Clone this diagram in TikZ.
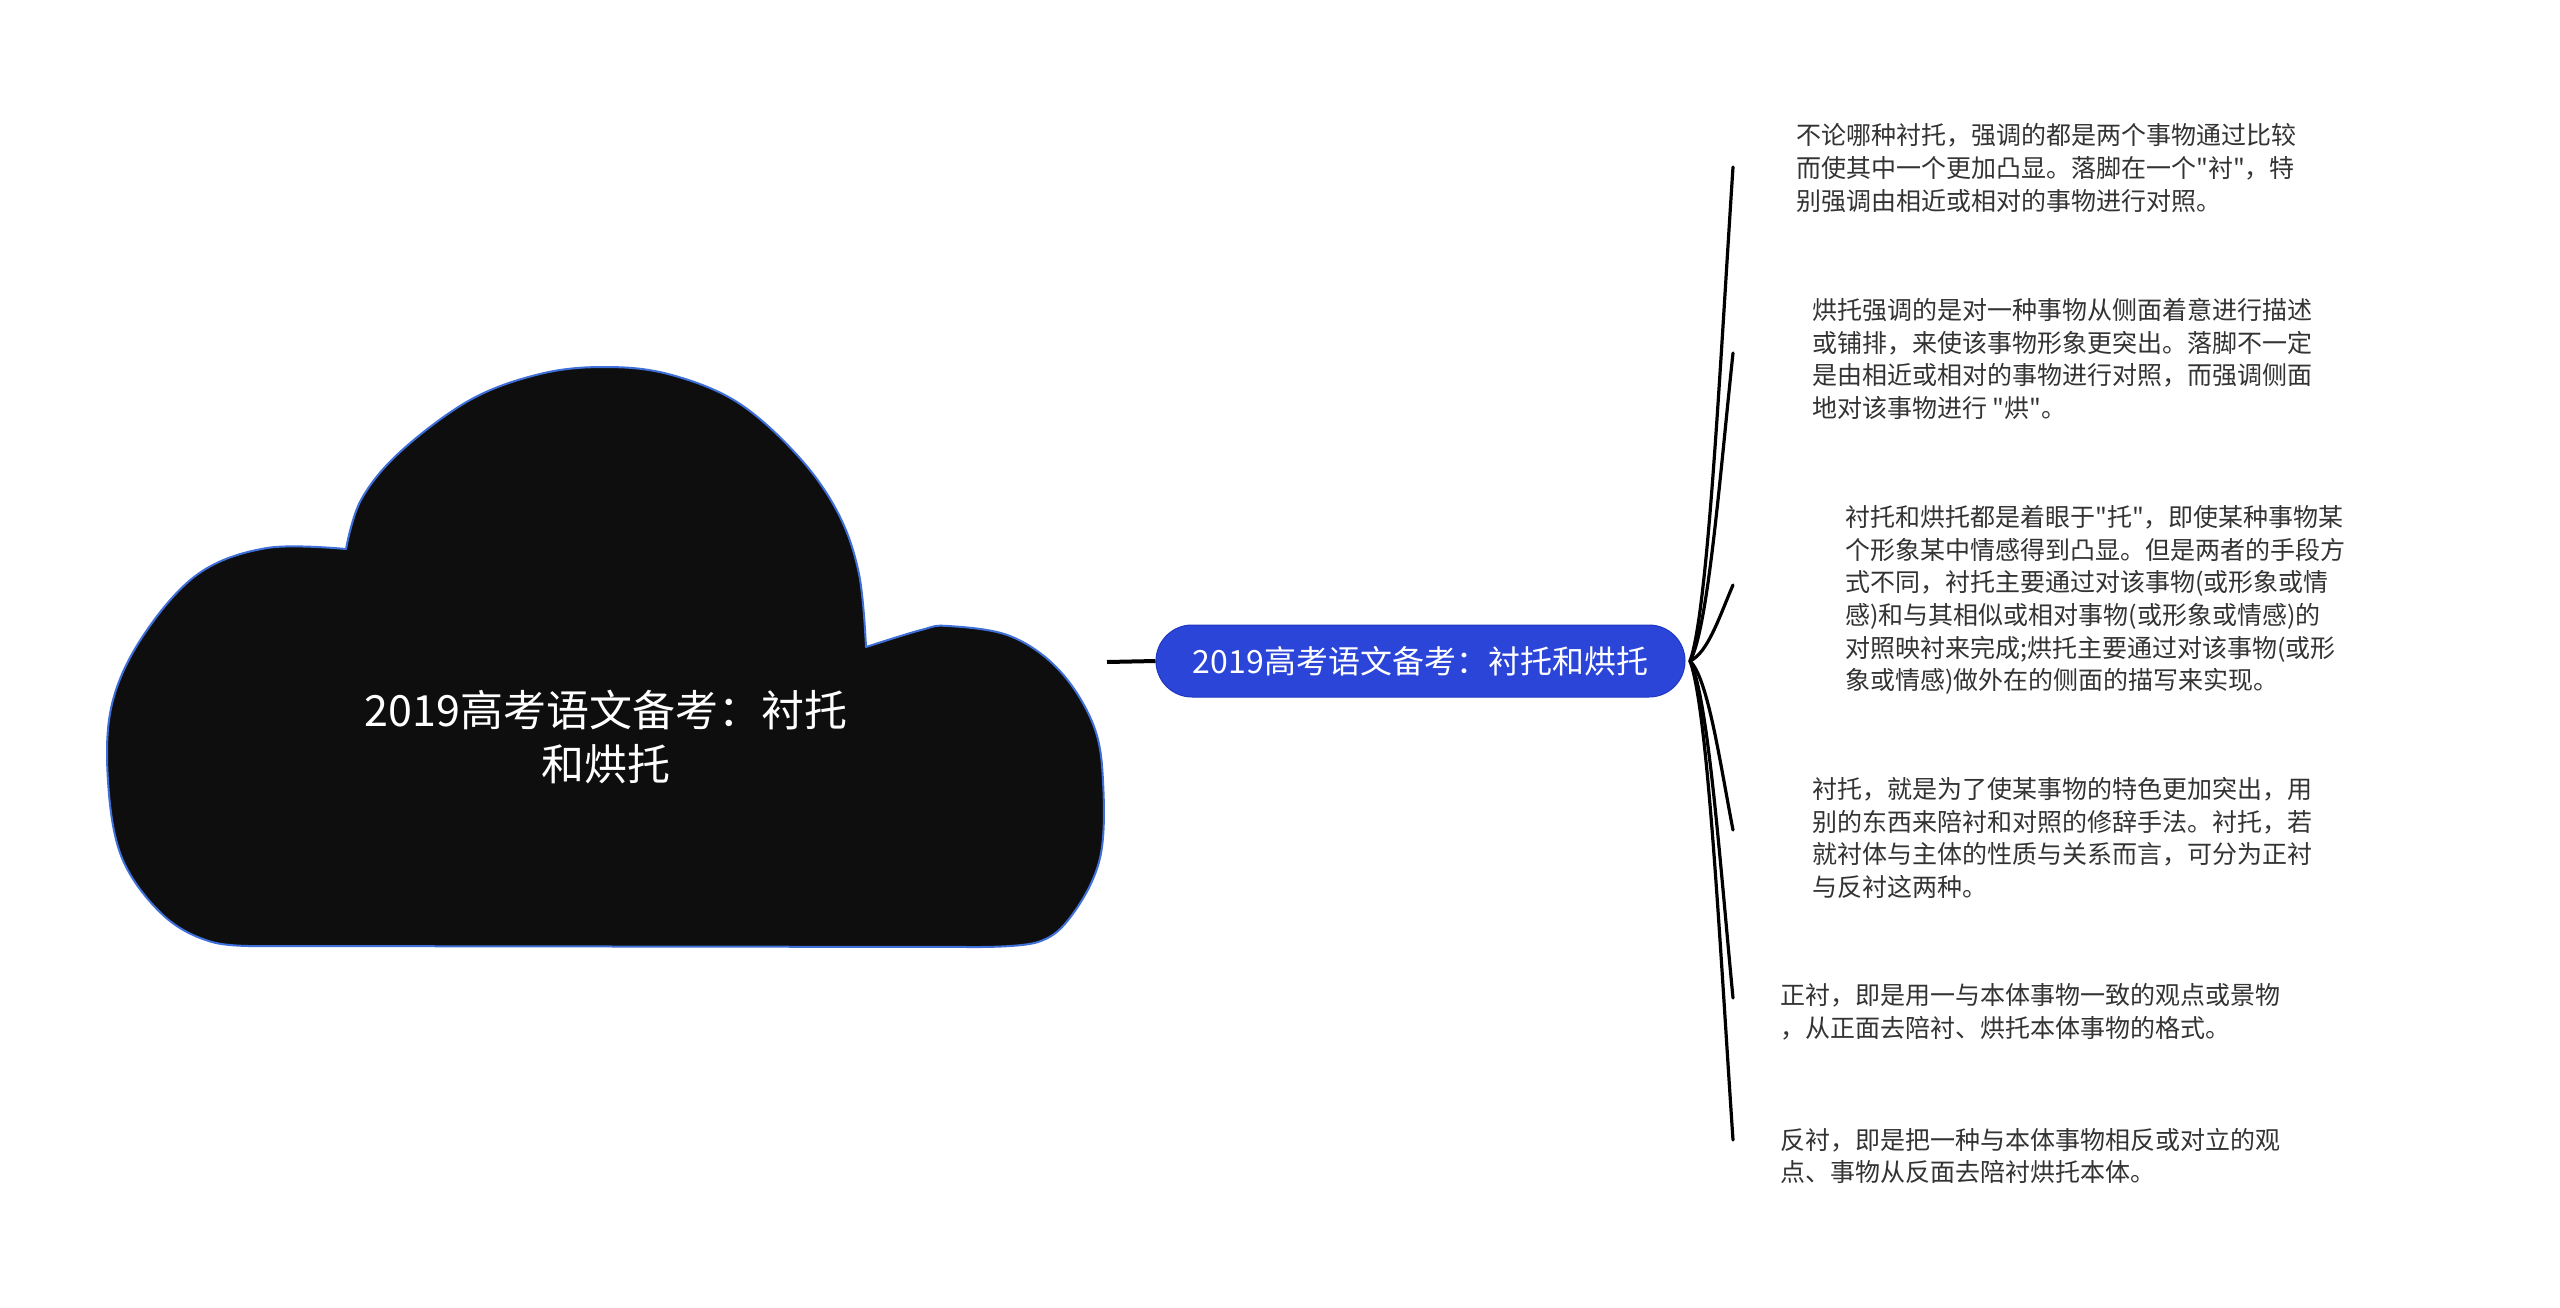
\documentclass[tikz,border=0pt]{standalone}
\usepackage{fontspec}
\newfontfamily\cjk{Noto Sans CJK SC}
\definecolor{cloudfill}{HTML}{0E0E0E}
\definecolor{cloudline}{HTML}{3F6FD8}
\definecolor{pillfill}{HTML}{2B45D8}
\definecolor{pillline}{HTML}{2038C0}
\definecolor{leaftext}{HTML}{333333}
\tikzset{
  leaf/.style={font=\cjk\fontsize{25}{32.7}\selectfont, text=leaftext, align=left, inner sep=0pt, anchor=west},
  conn/.style={line width=3.2pt, black, line cap=round},
  pill/.style={fill=pillfill, draw=pillline, line width=1pt, rounded corners=36pt, minimum width=529pt, minimum height=72pt, inner sep=0pt, text=white, font=\cjk\fontsize{32}{38}\selectfont},
  cloudtext/.style={text=white, align=center, inner sep=0pt, font=\cjk\fontsize{43}{54}\selectfont}
}
\begin{document}
\begin{tikzpicture}[x=1pt,y=-1pt]
\useasboundingbox (0,0) rectangle (2560,1307);
\fill[white] (0,0) rectangle (2560,1307);
% cloud
\path[fill=cloudfill, draw=cloudline, line width=2pt, line join=round]
  plot[smooth, tension=0.6] coordinates {(267,946) (212,942) (163,915) (122,858) (108,781) (112,704) (143,636) (198,574) (267,548) (346,549)}
  -- plot[smooth, tension=0.6] coordinates {(346,549) (361,500) (400,452) (470,400) (540,374) (604,367) (668,374) (737,402) (798,456) (838,513) (859,574) (866,647)}
  -- plot[smooth, tension=0.6] coordinates {(866,647) (921,630) (948,626) (1010,636) (1059,670) (1093,724) (1103,781) (1100,858) (1072,915) (1038,942) (976,947)}
  -- cycle;
\node[cloudtext] (root) at (606,737) {2019高考语文备考：衬托\\和烘托};
% main topic
\node[pill] (main) at (1420.5,661) {2019高考语文备考：衬托和烘托};
\coordinate (cl) at (1107,662);
\draw[line width=4pt] (cl) -- (main.west);
% leaves
\node[leaf] (t1) at (1796,168) {不论哪种衬托，强调的都是两个事物通过比较\\而使其中一个更加凸显。落脚在一个"衬"，特\\别强调由相近或相对的事物进行对照。};
\node[leaf] (t2) at (1812,359) {烘托强调的是对一种事物从侧面着意进行描述\\或铺排，来使该事物形象更突出。落脚不一定\\是由相近或相对的事物进行对照，而强调侧面\\地对该事物进行 "烘"。};
\node[leaf] (t3) at (1845,600) {衬托和烘托都是着眼于"托"，即使某种事物某\\个形象某中情感得到凸显。但是两者的手段方\\式不同，衬托主要通过对该事物(或形象或情\\感)和与其相似或相对事物(或形象或情感)的\\对照映衬来完成;烘托主要通过对该事物(或形\\象或情感)做外在的侧面的描写来实现。};
\node[leaf] (t4) at (1812,838) {衬托，就是为了使某事物的特色更加突出，用\\别的东西来陪衬和对照的修辞手法。衬托，若\\就衬体与主体的性质与关系而言，可分为正衬\\与反衬这两种。};
\node[leaf] (t5) at (1780,1012) {正衬，即是用一与本体事物一致的观点或景物\\，从正面去陪衬、烘托本体事物的格式。};
\node[leaf] (t6) at (1780,1156) {反衬，即是把一种与本体事物相反或对立的观\\点、事物从反面去陪衬烘托本体。};
% connector ends
\coordinate (o) at (1690,661);
\coordinate (e1) at (1733,167);
\coordinate (e2) at (1733,353);
\coordinate (e3) at (1733,585);
\coordinate (e4) at (1733,830);
\coordinate (e5) at (1733,998);
\coordinate (e6) at (1733,1140);
\draw[conn] (o) .. controls (1708,612) and (1720,365) .. (e1);
\draw[conn] (o) .. controls (1708,630) and (1720,475) .. (e2);
\draw[conn] (o) .. controls (1708,653) and (1720,615) .. (e3);
\draw[conn] (o) .. controls (1708,678) and (1720,763) .. (e4);
\draw[conn] (o) .. controls (1708,695) and (1720,863) .. (e5);
\draw[conn] (o) .. controls (1708,709) and (1720,948) .. (e6);
\end{tikzpicture}
\end{document}
